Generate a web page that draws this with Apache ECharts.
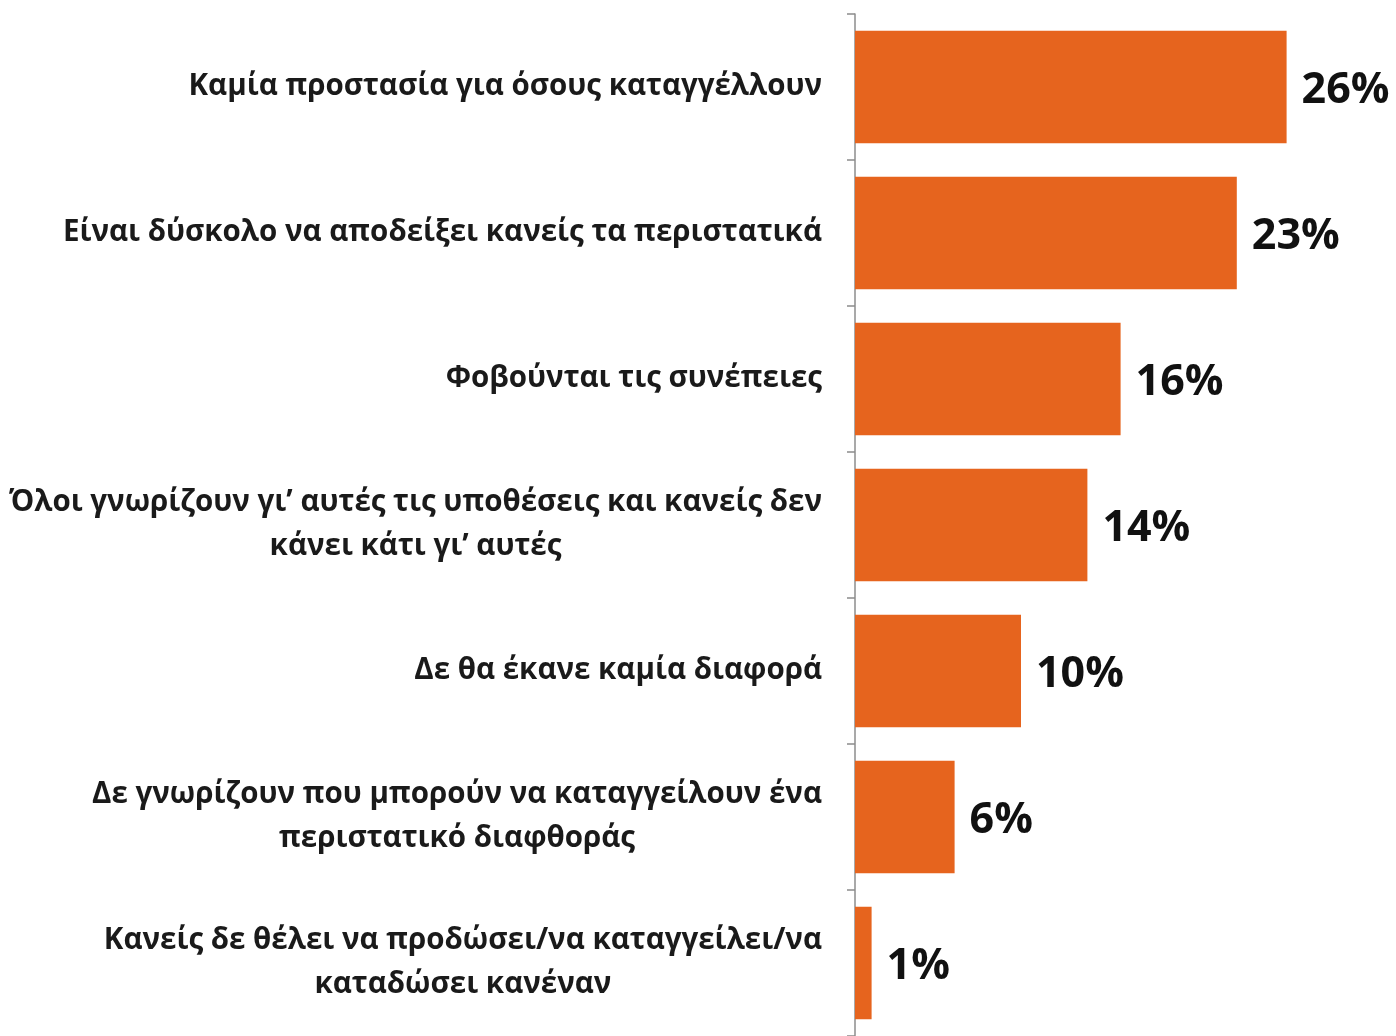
<!DOCTYPE html>
<html>
<head>
<meta charset="utf-8">
<script src="https://cdn.jsdelivr.net/npm/echarts@6/dist/echarts.min.js"></script>
<style>
html, body { margin: 0; padding: 0; background: #fff; }
#chart { width: 1396px; height: 1036px; }
</style>
</head>
<body>
<div id="chart"></div>
<script>
// κατηγορίες (από πάνω προς τα κάτω)
const categories = [
	"Καμία προστασία για όσους καταγγέλλουν",
	"Είναι δύσκολο να αποδείξει κανείς τα περιστατικά",
	"Φοβούνται τις συνέπειες",
	"Όλοι γνωρίζουν γι’ αυτές τις υποθέσεις και κανείς δεν\nκάνει κάτι γι’ αυτές",
	"Δε θα έκανε καμία διαφορά",
	"Δε γνωρίζουν που μπορούν να καταγγείλουν ένα\nπεριστατικό διαφθοράς",
	"Κανείς δε θέλει να προδώσει/να καταγγείλει/να\nκαταδώσει κανέναν"
];
const values = [26, 23, 16, 14, 10, 6, 1];

const chart = echarts.init(document.getElementById("chart"));

const option = {
	animation: false,
	grid: {
		top: 14,
		bottom: 0,
		left: 855,
		right: 43
	},
	xAxis: {
		type: "value",
		min: 0,
		max: 30,
		show: false
	},
	yAxis: {
		type: "category",
		data: categories,
		inverse: true,
		axisLine: {
			show: true,
			lineStyle: { color: "#8c8c8c", width: 1.5 }
		},
		axisTick: {
			show: true,
			inside: false,
			alignWithLabel: false,
			length: 8,
			lineStyle: { color: "#8c8c8c", width: 1.5 }
		},
		axisLabel: {
			margin: 33,
			align: "right",
			// κάθε γραμμή κεντραρισμένη μέσα στο μπλοκ
			formatter: (v) => v.split("\n").map((l) => "{c|" + l + "}").join("\n"),
			rich: {
				c: {
					align: "center",
					color: "#1a1a1a",
					fontFamily: "Open Sans",
					fontWeight: "bold",
					fontSize: 29.5,
					lineHeight: 44
				}
			}
		}
	},
	series: [
		{
			type: "bar",
			data: values,
			barWidth: "77%",
			itemStyle: { color: "#E6641E" },
			label: {
				show: true,
				position: "right",
				distance: 15,
				offset: [0, 4],
				formatter: "{c}%",
				color: "#111",
				fontFamily: "Open Sans",
				fontWeight: "bold",
				fontSize: 43
			}
		}
	]
};

chart.setOption(option);
</script>
</body>
</html>
